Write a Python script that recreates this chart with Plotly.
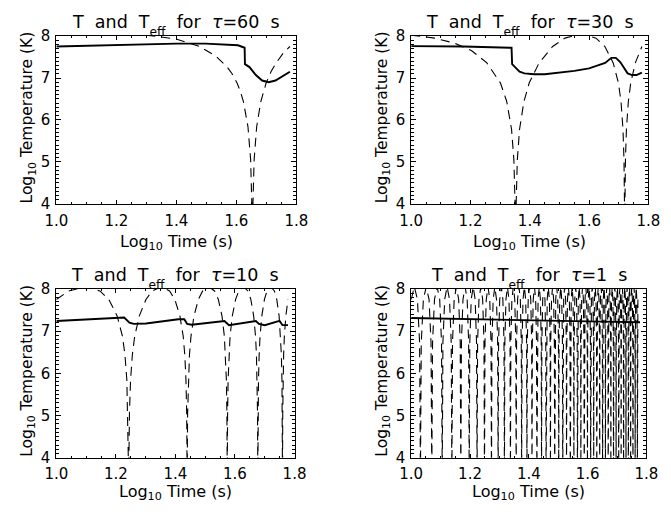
import numpy as np
import plotly.graph_objects as go

# ---------------- data (time in seconds, plotted as log10) ----------------
tau_values = ["60", "30", "10", "1"]

x_tickvals = [1.0, 1.2, 1.4, 1.6, 1.8]
x_ticktext = ["1.0", "1.2", "1.4", "1.6", "1.8"]
y_tickvals = [4, 5, 6, 7, 8]
y_ticktext = ["4", "5", "6", "7", "8"]

# tau = 60 s
t1_T = [10.0, 16.0, 25.1, 31.4, 40.3, 42.4, 42.5, 44.0, 46.2, 48.5, 51.0, 53.7, 57.1, 60.0]
T1 = [7.75, 7.79, 7.82, 7.82, 7.78, 7.72, 7.33, 7.26, 7.07, 6.94, 6.90, 6.94, 7.05, 7.15]
t1_eff = [10, 15, 20, 25, 30, 34, 37, 38.5, 40, 41, 42, 43.5, 44.4, 45, 45.6, 46.5,
          48, 50, 52, 54, 57, 60]
Teff1 = [8.02, 8.05, 8.02, 7.93, 7.75, 7.52, 7.27, 7.10, 6.88, 6.69, 6.44, 5.84, 5.05, 3.5,
         5.05, 5.84, 6.44, 6.88, 7.16, 7.36, 7.59, 7.75]

# tau = 30 s
t2_T = [10.0, 15.0, 21.8, 21.9, 22.4, 23.2, 24.1, 26.0, 28.2, 31.6, 35.5, 39.8, 45.1, 47.3,
        49.0, 50.7, 52.2, 53.7, 55.6, 57.5, 60.0]
T2 = [7.76, 7.75, 7.72, 7.33, 7.26, 7.15, 7.11, 7.09, 7.09, 7.13, 7.17, 7.23, 7.36, 7.48,
      7.48, 7.38, 7.23, 7.11, 7.07, 7.07, 7.13]
t2_eff = [10, 12, 14, 16, 18, 20, 21, 21.8, 22.2, 22.5, 22.8, 23.2, 24, 25, 27, 30, 33, 37.5,
          42, 45, 48, 50, 51, 51.8, 52.2, 52.5, 52.8, 53.2, 54, 55, 57, 60]
Teff2 = [8.02, 7.95, 7.83, 7.65, 7.36, 6.88, 6.44, 5.78, 5.05, 3.5, 5.05, 5.78, 6.44, 6.88,
         7.36, 7.75, 7.95, 8.05, 7.95, 7.75, 7.36, 6.88, 6.44, 5.78, 5.05, 3.5, 5.05, 5.78,
         6.44, 6.88, 7.36, 7.75]

# tau = 10 s
t3_T = [10.0, 15.7, 16.9, 17.6, 18.2, 20.0, 25.7, 26.9, 27.5, 28.5, 35.5, 36.7, 38.0, 46.8,
        47.9, 50.1, 56.2, 57.5, 60.0]
T3 = [7.24, 7.30, 7.32, 7.20, 7.17, 7.18, 7.28, 7.28, 7.17, 7.15, 7.24, 7.24, 7.14, 7.24,
      7.17, 7.14, 7.24, 7.14, 7.14]
t3_eff = [10, 11, 12.5, 14, 15, 16, 16.67, 17, 17.25, 17.4, 17.5,
          17.6, 17.75, 18, 18.33, 19, 20, 21, 22.5, 24, 25, 26, 26.67, 27, 27.25, 27.4, 27.5,
          27.6, 27.75, 28, 28.33, 29, 30, 31, 32.5, 34, 35, 36, 36.67, 37, 37.25, 37.4, 37.5,
          37.6, 37.75, 38, 38.33, 39, 40, 41, 42.5, 44, 45, 46, 46.67, 47, 47.25, 47.4, 47.5,
          47.6, 47.75, 48, 48.33, 49, 50, 51, 52.5, 54, 55, 56, 56.67, 57, 57.25, 57.4, 57.5,
          57.6, 57.75, 58, 58.33, 59, 60]
Teff3 = [7.75, 7.95, 8.05, 7.95, 7.75, 7.36, 6.88, 6.44, 5.84, 5.05, 3.5,
         5.05, 5.84, 6.44, 6.88, 7.36, 7.75, 7.95, 8.05, 7.95, 7.75, 7.36, 6.88, 6.44, 5.84, 5.05, 3.5,
         5.05, 5.84, 6.44, 6.88, 7.36, 7.75, 7.95, 8.05, 7.95, 7.75, 7.36, 6.88, 6.44, 5.84, 5.05, 3.5,
         5.05, 5.84, 6.44, 6.88, 7.36, 7.75, 7.95, 8.05, 7.95, 7.75, 7.36, 6.88, 6.44, 5.84, 5.05, 3.5,
         5.05, 5.84, 6.44, 6.88, 7.36, 7.75, 7.95, 8.05, 7.95, 7.75, 7.36, 6.88, 6.44, 5.84, 5.05, 3.5,
         5.05, 5.84, 6.44, 6.88, 7.36, 7.75]

# tau = 1 s
t4_T = [10.0, 15.8, 25.1, 39.8, 60.0]
T4 = [7.31, 7.28, 7.25, 7.23, 7.21]
t4_eff = [
    10.00, 10.25, 10.50, 10.68, 10.75,
    10.82, 11.00, 11.25, 11.50, 11.68, 11.75,
    11.82, 12.00, 12.25, 12.50, 12.68, 12.75,
    12.82, 13.00, 13.25, 13.50, 13.68, 13.75,
    13.82, 14.00, 14.25, 14.50, 14.68, 14.75,
    14.82, 15.00, 15.25, 15.50, 15.68, 15.75,
    15.82, 16.00, 16.25, 16.50, 16.68, 16.75,
    16.82, 17.00, 17.25, 17.50, 17.68, 17.75,
    17.82, 18.00, 18.25, 18.50, 18.68, 18.75,
    18.82, 19.00, 19.25, 19.50, 19.68, 19.75,
    19.82, 20.00, 20.25, 20.50, 20.68, 20.75,
    20.82, 21.00, 21.25, 21.50, 21.68, 21.75,
    21.82, 22.00, 22.25, 22.50, 22.68, 22.75,
    22.82, 23.00, 23.25, 23.50, 23.68, 23.75,
    23.82, 24.00, 24.25, 24.50, 24.68, 24.75,
    24.82, 25.00, 25.25, 25.50, 25.68, 25.75,
    25.82, 26.00, 26.25, 26.50, 26.68, 26.75,
    26.82, 27.00, 27.25, 27.50, 27.68, 27.75,
    27.82, 28.00, 28.25, 28.50, 28.68, 28.75,
    28.82, 29.00, 29.25, 29.50, 29.68, 29.75,
    29.82, 30.00, 30.25, 30.50, 30.68, 30.75,
    30.82, 31.00, 31.25, 31.50, 31.68, 31.75,
    31.82, 32.00, 32.25, 32.50, 32.68, 32.75,
    32.82, 33.00, 33.25, 33.50, 33.68, 33.75,
    33.82, 34.00, 34.25, 34.50, 34.68, 34.75,
    34.82, 35.00, 35.25, 35.50, 35.68, 35.75,
    35.82, 36.00, 36.25, 36.50, 36.68, 36.75,
    36.82, 37.00, 37.25, 37.50, 37.68, 37.75,
    37.82, 38.00, 38.25, 38.50, 38.68, 38.75,
    38.82, 39.00, 39.25, 39.50, 39.68, 39.75,
    39.82, 40.00, 40.25, 40.50, 40.68, 40.75,
    40.82, 41.00, 41.25, 41.50, 41.68, 41.75,
    41.82, 42.00, 42.25, 42.50, 42.68, 42.75,
    42.82, 43.00, 43.25, 43.50, 43.68, 43.75,
    43.82, 44.00, 44.25, 44.50, 44.68, 44.75,
    44.82, 45.00, 45.25, 45.50, 45.68, 45.75,
    45.82, 46.00, 46.25, 46.50, 46.68, 46.75,
    46.82, 47.00, 47.25, 47.50, 47.68, 47.75,
    47.82, 48.00, 48.25, 48.50, 48.68, 48.75,
    48.82, 49.00, 49.25, 49.50, 49.68, 49.75,
    49.82, 50.00, 50.25, 50.50, 50.68, 50.75,
    50.82, 51.00, 51.25, 51.50, 51.68, 51.75,
    51.82, 52.00, 52.25, 52.50, 52.68, 52.75,
    52.82, 53.00, 53.25, 53.50, 53.68, 53.75,
    53.82, 54.00, 54.25, 54.50, 54.68, 54.75,
    54.82, 55.00, 55.25, 55.50, 55.68, 55.75,
    55.82, 56.00, 56.25, 56.50, 56.68, 56.75,
    56.82, 57.00, 57.25, 57.50, 57.68, 57.75,
    57.82, 58.00, 58.25, 58.50, 58.68, 58.75,
    58.82, 59.00, 59.25, 59.50, 59.68, 59.75,
    59.82, 60.00]
Teff4 = [
    7.75, 8.05, 7.75, 6.73, 3.5,
    6.73, 7.75, 8.05, 7.75, 6.73, 3.5,
    6.73, 7.75, 8.05, 7.75, 6.73, 3.5,
    6.73, 7.75, 8.05, 7.75, 6.73, 3.5,
    6.73, 7.75, 8.05, 7.75, 6.73, 3.5,
    6.73, 7.75, 8.05, 7.75, 6.73, 3.5,
    6.73, 7.75, 8.05, 7.75, 6.73, 3.5,
    6.73, 7.75, 8.05, 7.75, 6.73, 3.5,
    6.73, 7.75, 8.05, 7.75, 6.73, 3.5,
    6.73, 7.75, 8.05, 7.75, 6.73, 3.5,
    6.73, 7.75, 8.05, 7.75, 6.73, 3.5,
    6.73, 7.75, 8.05, 7.75, 6.73, 3.5,
    6.73, 7.75, 8.05, 7.75, 6.73, 3.5,
    6.73, 7.75, 8.05, 7.75, 6.73, 3.5,
    6.73, 7.75, 8.05, 7.75, 6.73, 3.5,
    6.73, 7.75, 8.05, 7.75, 6.73, 3.5,
    6.73, 7.75, 8.05, 7.75, 6.73, 3.5,
    6.73, 7.75, 8.05, 7.75, 6.73, 3.5,
    6.73, 7.75, 8.05, 7.75, 6.73, 3.5,
    6.73, 7.75, 8.05, 7.75, 6.73, 3.5,
    6.73, 7.75, 8.05, 7.75, 6.73, 3.5,
    6.73, 7.75, 8.05, 7.75, 6.73, 3.5,
    6.73, 7.75, 8.05, 7.75, 6.73, 3.5,
    6.73, 7.75, 8.05, 7.75, 6.73, 3.5,
    6.73, 7.75, 8.05, 7.75, 6.73, 3.5,
    6.73, 7.75, 8.05, 7.75, 6.73, 3.5,
    6.73, 7.75, 8.05, 7.75, 6.73, 3.5,
    6.73, 7.75, 8.05, 7.75, 6.73, 3.5,
    6.73, 7.75, 8.05, 7.75, 6.73, 3.5,
    6.73, 7.75, 8.05, 7.75, 6.73, 3.5,
    6.73, 7.75, 8.05, 7.75, 6.73, 3.5,
    6.73, 7.75, 8.05, 7.75, 6.73, 3.5,
    6.73, 7.75, 8.05, 7.75, 6.73, 3.5,
    6.73, 7.75, 8.05, 7.75, 6.73, 3.5,
    6.73, 7.75, 8.05, 7.75, 6.73, 3.5,
    6.73, 7.75, 8.05, 7.75, 6.73, 3.5,
    6.73, 7.75, 8.05, 7.75, 6.73, 3.5,
    6.73, 7.75, 8.05, 7.75, 6.73, 3.5,
    6.73, 7.75, 8.05, 7.75, 6.73, 3.5,
    6.73, 7.75, 8.05, 7.75, 6.73, 3.5,
    6.73, 7.75, 8.05, 7.75, 6.73, 3.5,
    6.73, 7.75, 8.05, 7.75, 6.73, 3.5,
    6.73, 7.75, 8.05, 7.75, 6.73, 3.5,
    6.73, 7.75, 8.05, 7.75, 6.73, 3.5,
    6.73, 7.75, 8.05, 7.75, 6.73, 3.5,
    6.73, 7.75, 8.05, 7.75, 6.73, 3.5,
    6.73, 7.75, 8.05, 7.75, 6.73, 3.5,
    6.73, 7.75, 8.05, 7.75, 6.73, 3.5,
    6.73, 7.75, 8.05, 7.75, 6.73, 3.5,
    6.73, 7.75]

# ---------------- layout helpers ----------------
W, H = 671, 515
FONT = "DejaVu Sans, Verdana, sans-serif"
SP = "\u00a0\u00a0"


def px(x):
    return x / W


def py(y):
    return 1 - y / H


# plot frames in pixels: (left, right, top, bottom)
frames = [(46, 295, 28, 202), (414, 660, 28, 202),
          (46, 293, 290, 465), (414, 658, 290, 465)]

series = [(t1_T, T1, t1_eff, Teff1), (t2_T, T2, t2_eff, Teff2),
          (t3_T, T3, t3_eff, Teff3), (t4_T, T4, t4_eff, Teff4)]

fig = go.Figure()
annotations = []

for i, ((tT, T, tE, TE), (l, r, t, b), tau) in enumerate(zip(series, frames, tau_values)):
    sfx = "" if i == 0 else str(i + 1)
    top_row = i < 2
    fig.add_trace(go.Scatter(x=np.log10(tE), y=TE, mode="lines",
                             line=dict(color="black", width=1.1, dash="9px,6px"),
                             xaxis="x" + sfx, yaxis="y" + sfx,
                             showlegend=False, hoverinfo="skip"))
    fig.add_trace(go.Scatter(x=np.log10(tT), y=T, mode="lines",
                             line=dict(color="black", width=1.9),
                             xaxis="x" + sfx, yaxis="y" + sfx,
                             showlegend=False, hoverinfo="skip"))
    common = dict(showline=True, linecolor="black", linewidth=1, mirror="allticks",
                  ticks="inside", tickcolor="black", tickwidth=1, showgrid=False,
                  zeroline=False, tickfont=dict(family=FONT, size=15, color="black"))
    fig.layout["xaxis" + sfx] = dict(
        domain=[px(l), px(r)], anchor="y" + sfx, range=[1.0, 1.8],
        tickvals=x_tickvals, ticktext=x_ticktext, ticklen=4,
        ticklabelstandoff=3 if top_row else 2,
        minor=dict(ticks="inside", dtick=0.05, tick0=1.0, ticklen=2,
                   tickcolor="black", tickwidth=1),
        **common)
    fig.layout["yaxis" + sfx] = dict(
        domain=[py(b), py(t)], anchor="x" + sfx, range=[4, 8],
        tickvals=y_tickvals, ticktext=y_ticktext, ticklen=5, ticklabelstandoff=2,
        minor=dict(ticks="inside", dtick=0.1, tick0=4, ticklen=3,
                   tickcolor="black", tickwidth=1),
        **common)

    cx = (l + r) / 2
    annotations.append(dict(
        text="T" + SP + "and" + SP + "T<sub><span style=\"baseline-shift:-4px\">eff</span></sub>"
             + SP + "for" + SP + "<i>τ</i>=" + tau + SP + "s",
        x=px(cx), y=py(t - 27), xref="paper", yref="paper",
        xanchor="center", yanchor="top", showarrow=False,
        font=dict(family=FONT, size=17.5, color="black")))
    annotations.append(dict(
        text="Log<sub>10</sub> Time (s)",
        x=px(cx), y=py(b + 27 if top_row else b + 23), xref="paper", yref="paper",
        xanchor="center", yanchor="top", showarrow=False,
        font=dict(family=FONT, size=16, color="black")))
    annotations.append(dict(
        text="Log<sub>10</sub> Temperature (K)", textangle=-90,
        x=px(l - 29), y=py((t + b) / 2 - 3), xref="paper", yref="paper",
        xanchor="center", yanchor="middle", showarrow=False,
        font=dict(family=FONT, size=15.5, color="black")))

fig.update_layout(width=W, height=H, margin=dict(l=0, r=0, t=0, b=0),
                  paper_bgcolor="white", plot_bgcolor="white",
                  annotations=annotations, showlegend=False)

fig.write_html("out.html",
               post_script="document.body.style.margin='0';document.body.style.padding='0';")
